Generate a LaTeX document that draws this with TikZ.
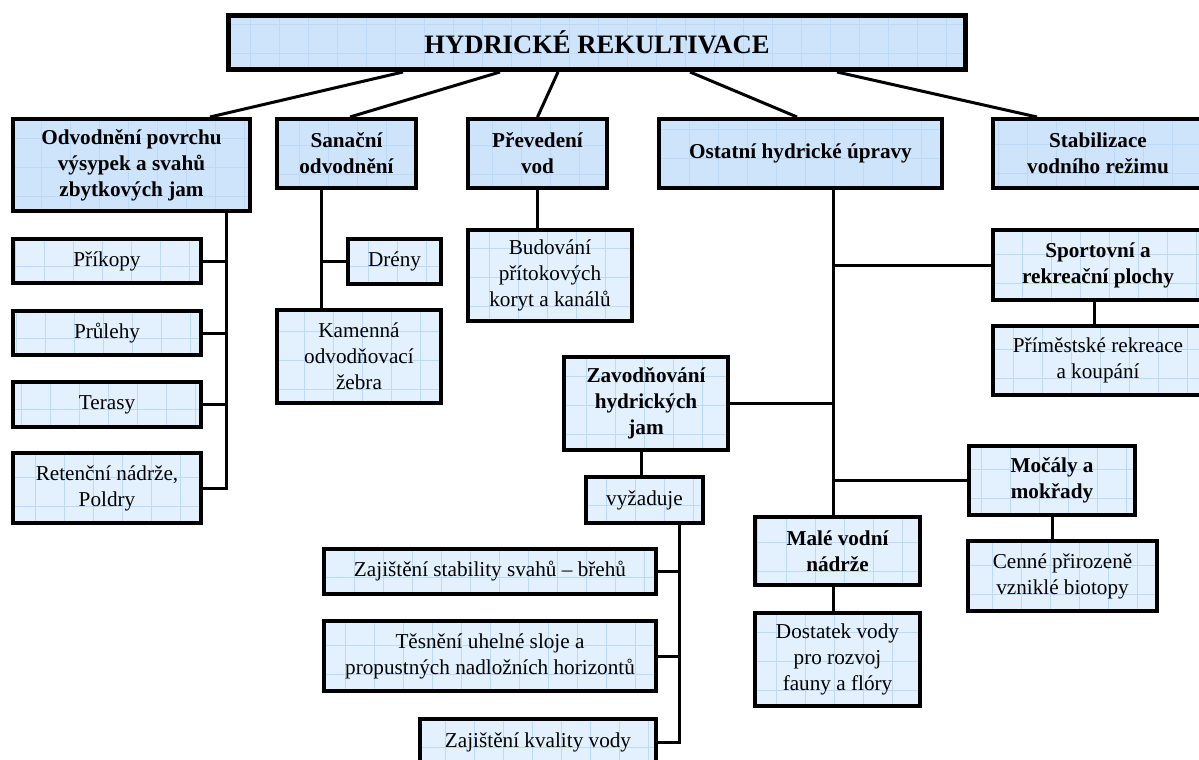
\documentclass[tikz,border=0pt]{standalone}
\usepackage{fontspec}
\setmainfont{Liberation Serif}
\usepackage{tikz}
\usetikzlibrary{shapes,arrows,positioning,calc}

\definecolor{HeadFill}{RGB}{205,228,251}
\definecolor{LeafFill}{RGB}{226,241,253}
\definecolor{GridBlue}{RGB}{188,218,248}

\begin{document}
\begin{tikzpicture}[x=1pt,y=-1pt]
			\tikzstyle{Box}		= [rectangle, draw=black, line width=4pt, inner sep=0pt, align=center, text=black,
								   font=\fontsize{21.2}{26}\selectfont,
								   path picture={\draw[GridBlue, line width=0.6pt] (path picture bounding box.south west) grid[step=29pt] (path picture bounding box.north east);}]
			\tikzstyle{Head}	= [Box, fill=HeadFill, font=\fontsize{21.2}{26}\selectfont\bfseries]
			\tikzstyle{Top}		= [Head, line width=5pt, font=\fontsize{26.6}{30}\selectfont\bfseries]
			\tikzstyle{Leaf}	= [Box, fill=LeafFill]
			\tikzstyle{LeafB}	= [Leaf, font=\fontsize{21.2}{26}\selectfont\bfseries]
			\tikzstyle{Link}	= [line width=3pt, black]

			\useasboundingbox (0,0) rectangle (1199,760);
			\clip (0,0) rectangle (1199,760);

			\node (hr) at (597,42.5) [Top, minimum width=737, minimum height=54] {HYDRICKÉ REKULTIVACE};

			% first row
			\node (odv) at (131.5,165) [Head, minimum width=237, minimum height=92] {Odvodnění povrchu\\výsypek a svahů\\zbytkových jam};
			\node (san) at (346.5,153.5) [Head, minimum width=139, minimum height=69] {Sanační\\odvodnění};
			\node (pre) at (537.5,153.5) [Head, minimum width=139, minimum height=69] {Převedení\\vod};
			\node (ost) at (800.5,153.5) [Head, minimum width=283, minimum height=69] {Ostatní hydrické úpravy};
			\node (stab) at (1098,153.5) [Head, minimum width=210, minimum height=69] {Stabilizace\\vodního režimu};

			% under Odvodneni
			\node (pri) at (107,261) [Leaf, minimum width=188, minimum height=44] {Příkopy};
			\node (pru) at (107,333) [Leaf, minimum width=188, minimum height=44] {Průlehy};
			\node (ter) at (107,404.5) [Leaf, minimum width=188, minimum height=45] {Terasy};
			\node (ret) at (107,488) [Leaf, minimum width=188, minimum height=70] {Retenční nádrže,\\Poldry};

			% under Sanacni / Prevedeni
			\node (dre) at (394.5,261.5) [Leaf, minimum width=93, minimum height=45] {Drény};
			\node (kam) at (359,356.5) [Leaf, minimum width=164, minimum height=93] {Kamenná\\odvodňovací\\žebra};
			\node (bud) at (550,275.5) [Leaf, minimum width=164, minimum height=91] {Budování\\přítokových\\koryt a kanálů};

			% under Ostatni
			\node (spo) at (1098,265) [LeafB, minimum width=210, minimum height=70] {Sportovní a\\rekreační plochy};
			\node (prim) at (1098,360.5) [Leaf, minimum width=210, minimum height=69] {Příměstské rekreace\\a koupání};
			\node (zav) at (646,403.5) [LeafB, minimum width=164, minimum height=93] {Zavodňování\\hydrických\\jam};
			\node (vyz) at (644.5,500) [Leaf, minimum width=117, minimum height=46] {vyžaduje};
			\node (moc) at (1052,480.5) [LeafB, minimum width=166, minimum height=69] {Močály a\\mokřady};
			\node (cen) at (1062.5,576) [Leaf, minimum width=189, minimum height=70] {Cenné přirozeně\\vzniklé biotopy};
			\node (male) at (837.5,551) [LeafB, minimum width=165, minimum height=68] {Malé vodní\\nádrže};
			\node (dost) at (837.5,659.5) [Leaf, minimum width=165, minimum height=93] {Dostatek vody\\pro rozvoj\\fauny a flóry};

			% under vyzaduje
			\node (zs) at (490,571.5) [Leaf, minimum width=332, minimum height=45] {Zajištění stability svahů – břehů};
			\node (tes) at (490,656) [Leaf, minimum width=332, minimum height=70] {Těsnění uhelné sloje a\\propustných nadložních horizontů};
			\node (zk) at (538,742) [Leaf, minimum width=236, minimum height=46] {Zajištění kvality vody};

			\draw [Link] ([xshift=-194pt]hr.south) to ([xshift=78.5pt]odv.north);
			\draw [Link] ([xshift=-97pt]hr.south) to ([xshift=3.5pt]san.north);
			\draw [Link] ([xshift=-39pt]hr.south) to (pre.north);
			\draw [Link] ([xshift=93pt]hr.south) to ([xshift=-3.5pt]ost.north);
			\draw [Link] ([xshift=240pt]hr.south) to ([xshift=-61pt]stab.north);

			\coordinate (odvStem) at ([xshift=94.5pt]odv.south);
			\draw [Link] (odvStem) |- (ret.east);
			\draw [Link] (pri.east) -- (pri.east -| odvStem);
			\draw [Link] (pru.east) -- (pru.east -| odvStem);
			\draw [Link] (ter.east) -- (ter.east -| odvStem);

			\coordinate (sanStem) at ([xshift=-25.5pt]san.south);
			\draw [Link] (sanStem) -- (kam.north -| sanStem);
			\draw [Link] (dre.west) -- (dre.west -| sanStem);

			\draw [Link] (pre.south) -- (pre.south |- bud.north);

			\coordinate (ostStem) at ([xshift=32.5pt]ost.south);
			\draw [Link] (ostStem) -- (ostStem |- male.north);
			\draw [Link] (spo.west) -- (spo.west -| ostStem);
			\draw [Link] (zav.east) -- (zav.east -| ostStem);
			\draw [Link] (moc.west) -- (moc.west -| ostStem);

			\draw [Link] ([xshift=-4pt]spo.south) -- ([xshift=-4pt]prim.north);
			\draw [Link] ([xshift=-5pt]zav.south) -- ([xshift=-3.5pt]vyz.north);
			\draw [Link] (moc.south) -- (moc.south |- cen.north);
			\draw [Link] ([xshift=-4.5pt]male.south) -- ([xshift=-4.5pt]dost.north);

			\coordinate (vyzStem) at ([xshift=34.5pt]vyz.south);
			\draw [Link] (vyzStem) |- (zk.east);
			\draw [Link] (zs.east) -- (zs.east -| vyzStem);
			\draw [Link] (tes.east) -- (tes.east -| vyzStem);
		\end{tikzpicture}
\end{document}
